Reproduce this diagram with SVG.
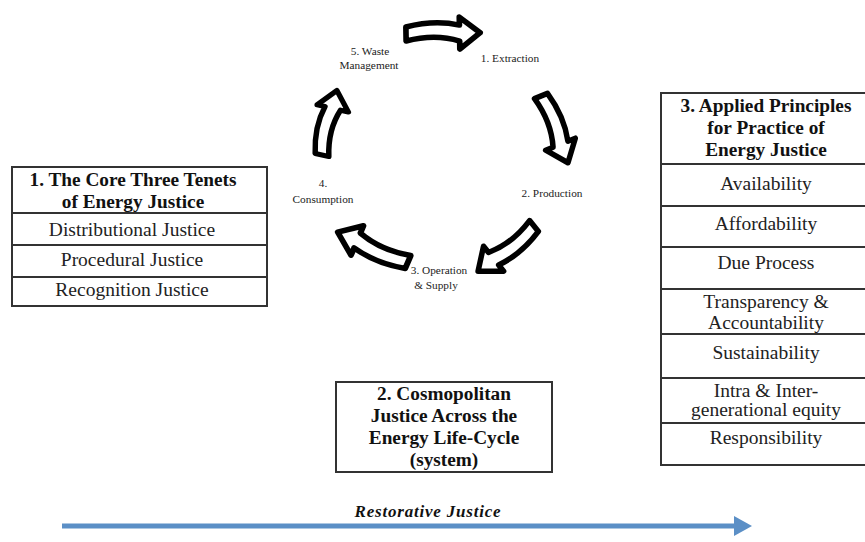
<svg xmlns="http://www.w3.org/2000/svg" width="865" height="542" viewBox="0 0 865 542">
<style>
.box{fill:#fff;stroke:#333;stroke-width:2}
.sep{stroke:#333;stroke-width:2}
.hd{font-family:"Liberation Serif","Times New Roman","DejaVu Serif",serif;font-weight:bold;font-size:19.3px;fill:#111;text-anchor:middle}
.rw{font-family:"Liberation Serif","Times New Roman","DejaVu Serif",serif;font-size:19.5px;fill:#222;text-anchor:middle}
.sm{font-family:"Liberation Serif","Times New Roman","DejaVu Serif",serif;font-size:11.3px;fill:#222;text-anchor:middle}
.it{font-family:"Liberation Serif","Times New Roman","DejaVu Serif",serif;font-weight:bold;font-style:italic;font-size:17px;letter-spacing:0.8px;fill:#111;text-anchor:middle}
.cyc{fill:#fff;stroke:#000;stroke-width:5.5;stroke-linejoin:round}
</style>
<defs>
<path id="ca" d="M0,-7 Q28,-14 52,-8 L52,-16 L72,0 L52,16 L52,8 Q28,0 0,7 Z"/>
</defs>
<rect width="865" height="542" fill="#fff"/>

<g id="connectors">
<use href="#ca" class="cyc" transform="translate(406,34) rotate(-1) scale(1.03,1)"/>
<use href="#ca" class="cyc" transform="translate(541,96) rotate(68)"/>
<use href="#ca" class="cyc" transform="translate(534,226) rotate(141)"/>
<use href="#ca" class="cyc" transform="translate(408,262) rotate(203) scale(1.06,1)"/>
<use href="#ca" class="cyc" transform="translate(322,155) rotate(283) scale(0.92,1)"/>
</g>

<g id="cycle-labels">
<text class="sm" x="370" y="55">5. Waste</text>
<text class="sm" x="369" y="69">Management</text>
<text class="sm" x="510" y="62">1. Extraction</text>
<text class="sm" x="552" y="197">2. Production</text>
<text class="sm" x="323" y="187">4.</text>
<text class="sm" x="323" y="203">Consumption</text>
<text class="sm" x="439" y="274">3. Operation</text>
<text class="sm" x="436" y="289">&amp; Supply</text>
</g>

<g id="tenets">
<rect class="box" x="12" y="167" width="255" height="139"/>
<line class="sep" x1="12" y1="213" x2="267" y2="213"/>
<line class="sep" x1="12" y1="245" x2="267" y2="245"/>
<line class="sep" x1="12" y1="277" x2="267" y2="277"/>
<text class="hd" x="133" y="186">1. The Core Three Tenets</text>
<text class="hd" x="133" y="208">of Energy Justice</text>
<text class="rw" x="132" y="236">Distributional Justice</text>
<text class="rw" x="132" y="266">Procedural Justice</text>
<text class="rw" x="132" y="296">Recognition Justice</text>
</g>

<g id="cosmopolitan">
<rect class="box" x="336" y="382" width="216" height="90"/>
<text class="hd" x="444" y="400">2. Cosmopolitan</text>
<text class="hd" x="444" y="422">Justice Across the</text>
<text class="hd" x="444" y="444">Energy Life-Cycle</text>
<text class="hd" x="444" y="466">(system)</text>
</g>

<g id="principles">
<rect class="box" x="661" y="93" width="212" height="372"/>
<line class="sep" x1="661" y1="164" x2="873" y2="164"/>
<line class="sep" x1="661" y1="206" x2="873" y2="206"/>
<line class="sep" x1="661" y1="247" x2="873" y2="247"/>
<line class="sep" x1="661" y1="289" x2="873" y2="289"/>
<line class="sep" x1="661" y1="334" x2="873" y2="334"/>
<line class="sep" x1="661" y1="378" x2="873" y2="378"/>
<line class="sep" x1="661" y1="423" x2="873" y2="423"/>
<text class="hd" x="766" y="112">3. Applied Principles</text>
<text class="hd" x="766" y="134">for Practice of</text>
<text class="hd" x="766" y="156">Energy Justice</text>
<text class="rw" x="766" y="190">Availability</text>
<text class="rw" x="766" y="230">Affordability</text>
<text class="rw" x="766" y="269">Due Process</text>
<text class="rw" x="766" y="308">Transparency &amp;</text>
<text class="rw" x="766" y="329">Accountability</text>
<text class="rw" x="766" y="359">Sustainability</text>
<text class="rw" x="766" y="397">Intra &amp; Inter-</text>
<text class="rw" x="766" y="416">generational equity</text>
<text class="rw" x="766" y="444">Responsibility</text>
</g>

<g id="restorative">
<line x1="62" y1="526" x2="738" y2="526" stroke="#5b8fc6" stroke-width="5"/>
<path d="M734,516 L752,526 L734,536 Z" fill="#5b8fc6"/>
<text class="it" x="428" y="517">Restorative Justice</text>
</g>
</svg>
